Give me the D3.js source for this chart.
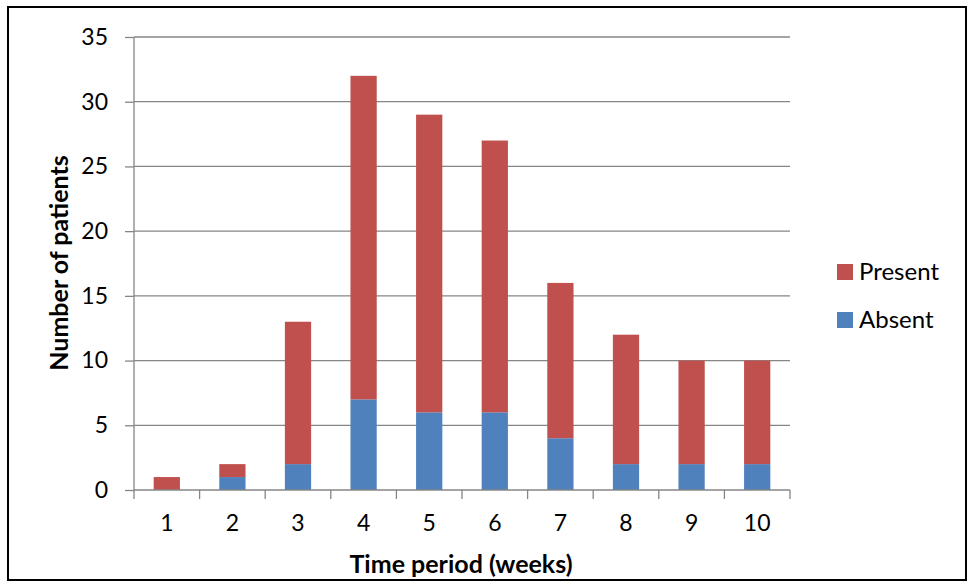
<!DOCTYPE html>
<html><head><meta charset="utf-8">
<script src="https://cdn.jsdelivr.net/npm/d3@7"></script>
<style>body{margin:0;background:#fff}svg{display:block}text{font-family:Lato,"Open Sans",sans-serif}</style>
</head><body>
<svg id="c" width="973" height="586"></svg>
<script>
const categories = ["1","2","3","4","5","6","7","8","9","10"];
const absent = [0,1,2,7,6,6,4,2,2,2];
const present = [1,1,11,25,23,21,12,10,8,8];
const yTicks = [0,5,10,15,20,25,30,35];
const seriesNames = ["Absent","Present"];
const colors = {Absent:"#4F81BD", Present:"#C0504D"};

const svg = d3.select("#c");
svg.append("rect").attr("x",8).attr("y",7).attr("width",958).attr("height",573)
  .attr("fill","#fff").attr("stroke","#000").attr("stroke-width",2);

const m = {l:134, r:790, t:37, b:490};
const x = d3.scaleBand().domain(categories).range([m.l,m.r]).paddingInner(0.6).paddingOuter(0.3);
const xb = d3.scaleBand().domain(categories).range([m.l,m.r]);
const y = d3.scaleLinear().domain([0,35]).range([m.b,m.t]);

svg.append("g").selectAll("line").data(yTicks.filter(d=>d>0)).join("line")
  .attr("x1",m.l).attr("x2",m.r).attr("y1",d=>y(d)).attr("y2",d=>y(d))
  .attr("stroke","#868686").attr("stroke-width",1.3);

const data = categories.map((c,i)=>({cat:c, Absent:absent[i], Present:present[i]}));
const stack = d3.stack().keys(seriesNames)(data);
svg.append("g").selectAll("g").data(stack).join("g").attr("fill",s=>colors[s.key])
  .selectAll("rect").data(s=>s).join("rect")
  .attr("x",d=>x(d.data.cat)).attr("width",x.bandwidth())
  .attr("y",d=>y(d[1])).attr("height",d=>y(d[0])-y(d[1]));

const ya = svg.append("g").attr("transform",`translate(${m.l},0)`)
  .call(d3.axisLeft(y).tickValues(yTicks).tickSize(9).tickPadding(17));
ya.select(".domain").attr("stroke","#868686").attr("stroke-width",1.3).attr("d",`M0,${m.t}V${m.b}`);
ya.selectAll(".tick line").attr("stroke","#868686").attr("stroke-width",1.3);
ya.selectAll(".tick text").attr("font-size",23).attr("fill","#000");

const xa = svg.append("g").attr("transform",`translate(0,${m.b})`)
  .call(d3.axisBottom(xb).tickSize(0).tickPadding(25));
xa.select(".domain").attr("stroke","#868686").attr("stroke-width",1.3).attr("d",`M${m.l},0H${m.r}`);
xa.selectAll(".tick text").attr("font-size",23).attr("fill","#000");
xa.selectAll("line.bd").data(categories.concat(["end"])).join("line").attr("class","bd")
  .attr("x1",(d,i)=>m.l+i*xb.bandwidth()).attr("x2",(d,i)=>m.l+i*xb.bandwidth())
  .attr("y1",0).attr("y2",9).attr("stroke","#868686").attr("stroke-width",1.3);

svg.append("text").attr("x",461).attr("y",573).attr("text-anchor","middle")
  .attr("font-size",25).attr("font-weight","bold").text("Time period (weeks)");
svg.append("text").attr("transform","translate(68,263) rotate(-90)").attr("text-anchor","middle")
  .attr("font-size",25).attr("font-weight","bold").text("Number of patients");

const leg = [{k:"Present",y:264},{k:"Absent",y:312}];
const lg = svg.append("g").selectAll("g").data(leg).join("g").attr("transform",d=>`translate(837,${d.y})`);
lg.append("rect").attr("width",16).attr("height",16).attr("fill",d=>colors[d.k]);
lg.append("text").attr("x",22).attr("y",16).attr("font-size",24).text(d=>d.k);
</script>
</body></html>
